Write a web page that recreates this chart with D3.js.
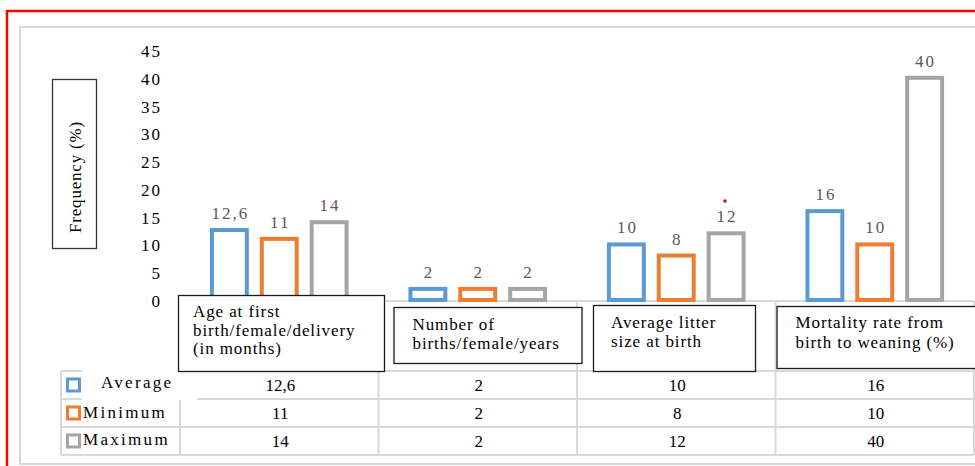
<!DOCTYPE html>
<html>
<head>
<meta charset="utf-8">
<script src="https://cdn.jsdelivr.net/npm/d3@7"></script>
<style>
  html, body { margin: 0; padding: 0; background: #fff; }
  svg { display: block; }
  svg text { font-family: "Liberation Serif", "Times New Roman", Times, "DejaVu Serif", serif; }
</style>
</head>
<body>
<svg id="chart" width="975" height="466"></svg>
<script>
// Reproductive parameters, one group of bars per indicator
const categoryLines = [
  ["Age at first", "birth/female/delivery", "(in months)"],
  ["Number of", "births/female/years"],
  ["Average litter", "size at birth"],
  ["Mortality rate from", "birth to weaning (%)"]
];
const seriesNames = ["Average", "Minimum", "Maximum"];
const average = [12.6, 2, 10, 16];
const minimum = [11, 2, 8, 10];
const maximum = [14, 2, 12, 40];
const yTicks = [0, 5, 10, 15, 20, 25, 30, 35, 40, 45];
const yTitle = "Frequency (%)";

const seriesValues = [average, minimum, maximum];
const colors = d3.scaleOrdinal().domain(seriesNames).range(["#5B9BD5", "#ED7D31", "#A5A5A5"]);

// Decimal comma, as in the source table
const locale = d3.formatLocale({ decimal: ",", thousands: ".", grouping: [3], currency: ["", ""] });
const fmt = locale.format("~g");

const svg = d3.select("#chart");

const x0 = d3.scaleBand().domain(d3.range(categoryLines.length)).range([180, 974]).padding(0);
const x1 = d3.scaleBand().domain(seriesNames).range([0, x0.bandwidth()]).paddingInner(0.3).paddingOuter(0.64);
const y = d3.scaleLinear().domain([0, 45]).range([300, 50]);

// Outer frames
svg.append("rect").attr("x", 20).attr("y", 27).attr("width", 980).attr("height", 437)
  .attr("fill", "none").attr("stroke", "#d9d9d9").attr("stroke-width", 2);
svg.append("path").attr("d", "M7,475V11H985").attr("fill", "none")
  .attr("stroke", "#ff0000").attr("stroke-width", 2.5);

// Data table grid
const rowTop = 371, rowH = 28, tableLeft = 61, tableRight = 974;
const grid = svg.append("g").attr("stroke", "#d9d9d9").attr("stroke-width", 2);
grid.append("line").attr("x1", x0.range()[0]).attr("x2", tableRight).attr("y1", y(0) + 1).attr("y2", y(0) + 1);
for (let r = 0; r <= seriesNames.length; r++) {
  grid.append("line").attr("x1", tableLeft).attr("x2", tableRight)
    .attr("y1", rowTop + r * rowH).attr("y2", rowTop + r * rowH);
}
grid.append("line").attr("x1", tableLeft).attr("x2", tableLeft).attr("y1", rowTop).attr("y2", rowTop + 3 * rowH);
const edges = x0.domain().map(i => x0(i)).concat([tableRight]);
grid.selectAll(".v").data(edges).join("line")
  .attr("x1", d => d).attr("x2", d => d)
  .attr("y1", y(0) + 1).attr("y2", rowTop + 3 * rowH);

// White patch behind the first legend label
svg.append("rect").attr("x", 82).attr("y", 364).attr("width", 115).attr("height", 36).attr("fill", "#fff");

// Y axis labels
const yAxis = svg.append("g").attr("transform", "translate(162,1)")
  .call(d3.axisLeft(y).tickValues(yTicks).tickSize(0).tickPadding(0));
yAxis.attr("font-family", null);
yAxis.select(".domain").remove();
yAxis.selectAll("text").attr("font-size", 17)
  .attr("fill", "#000").style("letter-spacing", "2px");

// Y title box
svg.append("rect").attr("x", 52.5).attr("y", 79.5).attr("width", 44).attr("height", 169)
  .attr("fill", "#fff").attr("stroke", "#333").attr("stroke-width", 1.3);
svg.append("text").attr("transform", "translate(81,177) rotate(-90)")
  .attr("text-anchor", "middle").attr("font-size", 17).style("letter-spacing", "0.8px")
  .attr("fill", "#000").text(yTitle);

// Bars
const groups = svg.append("g").selectAll("g").data(categoryLines).join("g")
  .attr("transform", (d, i) => `translate(${x0(i)},0)`);
groups.each(function (d, i) {
  const g = d3.select(this);
  const vals = seriesNames.map((s, k) => ({ s, v: seriesValues[k][i] }));
  g.selectAll("rect").data(vals).join("rect")
    .attr("x", e => x1(e.s)).attr("y", e => y(e.v))
    .attr("width", x1.bandwidth()).attr("height", e => y(0) - y(e.v))
    .attr("fill", "#fff").attr("stroke", e => colors(e.s)).attr("stroke-width", 4);
  g.selectAll("text").data(vals).join("text")
    .attr("x", e => x1(e.s) + x1.bandwidth() / 2 + 1).attr("y", e => y(e.v) - 11)
    .attr("text-anchor", "middle").attr("font-size", 17).style("letter-spacing", "2px")
    .attr("fill", "#595959").text(e => fmt(e.v));
});

// Stray red mark above the litter-size group
svg.append("circle").attr("cx", 725).attr("cy", 201).attr("r", 1.7).attr("fill", "#e00000");

// Category label boxes
const boxLayout = [
  { dx: -2, w: 206, top: 295, h: 76, tx: 15, base: 317, lh: 18.5 },
  { dx: 15, w: 188, top: 307, h: 56, tx: 19, base: 330, lh: 18.5 },
  { dx: 16, w: 162, top: 305, h: 66, tx: 18, base: 328, lh: 19 },
  { dx: 1, w: 220, top: 306, h: 62, tx: 19, base: 328, lh: 20 }
];
categoryLines.forEach((lines, i) => {
  const b = boxLayout[i];
  const bx = x0(i) + b.dx;
  svg.append("rect").attr("x", bx + 0.5).attr("y", b.top + 0.5).attr("width", b.w).attr("height", b.h)
    .attr("fill", "#fff").attr("stroke", "#1a1a1a").attr("stroke-width", 1.3);
  const t = svg.append("text").attr("font-size", 17).style("letter-spacing", "0.9px").attr("fill", "#000");
  lines.forEach((ln, j) => {
    t.append("tspan").attr("x", bx + b.tx).attr("y", b.base + j * b.lh).text(ln);
  });
});

// Data table: legend keys, series names and values
const legendX = [101, 83, 83];
const legendBase = [388, 418, 445];
seriesNames.forEach((s, k) => {
  const cy = rowTop + k * rowH + rowH / 2;
  svg.append("rect").attr("x", 67.5).attr("y", cy - 6).attr("width", 12).attr("height", 12)
    .attr("fill", "#fff").attr("stroke", colors(s)).attr("stroke-width", 3);
  svg.append("text").attr("x", legendX[k]).attr("y", legendBase[k]).attr("font-size", 17)
    .style("letter-spacing", "2.3px").attr("fill", "#000").text(s);
  svg.append("g").selectAll("text").data(seriesValues[k]).join("text")
    .attr("x", (v, i) => x0(i) + x0.bandwidth() / 2 + 1)
    .attr("y", rowTop + k * rowH + 20)
    .attr("text-anchor", "middle").attr("font-size", 17).attr("fill", "#000")
    .text(v => fmt(v));
});
</script>
</body>
</html>
